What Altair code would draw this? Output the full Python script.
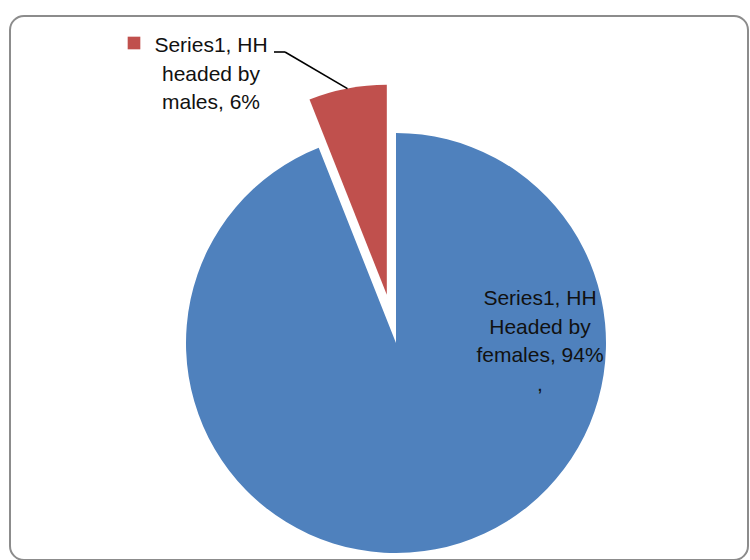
import math
import altair as alt
import pandas as pd

# ---- data ----
categories = ["HH Headed by females", "HH headed by males"]
values = [94, 6]
series_name = "Series1"
slice_colors = ["#4F81BD", "#C0504D"]
female_label_lines = ["Series1, HH", "Headed by", "females, 94%", ","]
male_label_lines = ["Series1, HH", "headed by", "males, 6%"]

# ---- layout (view coordinates; view origin is at page (10,16)) ----
W, H = 738, 544
CX, CY = 386, 327          # pie centre
R = 210                    # pie radius
EXPLODE = 49               # explosion of the small slice
FONT = "Liberation Sans"
FS = 21
LH = 28.5

total = sum(values)
starts, ends = [], []
acc = 0
for v in values:
    starts.append(acc / total * 100)
    acc += v
    ends.append(acc / total * 100)

df = pd.DataFrame({"category": categories, "value": values,
                   "start": starts, "end": ends})

theta_scale = alt.Scale(domain=[0, 100], range=[0, 2 * math.pi])
color_scale = alt.Scale(domain=categories, range=slice_colors)

# explosion offset of the males slice along its bisector
mid_pct = (starts[1] + ends[1]) / 2
mid_ang = mid_pct / 100 * 2 * math.pi
ex_dx = EXPLODE * math.sin(mid_ang)
ex_dy = -EXPLODE * math.cos(mid_ang)


def slice_layer(i, dx=0.0, dy=0.0):
    return (
        alt.Chart(df)
        .transform_filter(alt.datum.category == categories[i])
        .mark_arc(radius=R)
        .encode(
            theta=alt.Theta("start:Q", scale=theta_scale),
            theta2="end:Q",
            color=alt.Color("category:N", scale=color_scale, legend=None),
            x=alt.value(CX + dx),
            y=alt.value(CY + dy),
        )
    )


female_arc = slice_layer(0)
male_arc = slice_layer(1, ex_dx, ex_dy)

# labels
lab_df = pd.DataFrame({
    "text": ["\n".join(female_label_lines), "\n".join(male_label_lines)],
    "category": categories,
})

female_text = (
    alt.Chart(lab_df)
    .transform_filter(alt.datum.category == categories[0])
    .mark_text(font=FONT, fontSize=FS, lineBreak="\n", lineHeight=LH,
               align="center", baseline="alphabetic", color="#111111")
    .encode(text="text:N", x=alt.value(530), y=alt.value(289))
)

MX, MY = 201, 36
male_text = (
    alt.Chart(lab_df)
    .transform_filter(alt.datum.category == categories[1])
    .mark_text(font=FONT, fontSize=FS, lineBreak="\n", lineHeight=LH,
               align="center", baseline="alphabetic", color="#111111")
    .encode(text="text:N", x=alt.value(MX), y=alt.value(MY))
)

key = (
    alt.Chart(lab_df)
    .transform_filter(alt.datum.category == categories[1])
    .mark_square(size=160, opacity=1, filled=True)
    .encode(color=alt.Color("category:N", scale=color_scale, legend=None),
            x=alt.value(MX - 77), y=alt.value(MY - 9))
)

# leader line: from end of first label line to the middle of the slice's arc
ax = CX + ex_dx + R * math.sin(mid_ang)
ay = CY + ex_dy - R * math.cos(mid_ang)
lx0, lx1, ly = MX + 63, MX + 74, MY
leader_df = pd.DataFrame({"k": [0]})
leader1 = alt.Chart(leader_df).mark_rule(color="black", strokeWidth=1.6).encode(
    x=alt.value(lx0), x2=alt.value(lx1), y=alt.value(ly), y2=alt.value(ly))
leader2 = alt.Chart(leader_df).mark_rule(color="black", strokeWidth=1.6).encode(
    x=alt.value(lx1), x2=alt.value(ax), y=alt.value(ly), y2=alt.value(ay))

chart = (
    alt.layer(female_arc, male_arc, leader1, leader2, key, male_text, female_text)
    .properties(width=W, height=H, autosize="none",
                padding={"left": 10, "top": 16, "right": 2, "bottom": 0},
                background="white")
    .configure_view(stroke="#8c8c8c", strokeWidth=2, cornerRadius=14)
)

chart.save("out.html", embed_options={"renderer": "svg", "actions": False})
